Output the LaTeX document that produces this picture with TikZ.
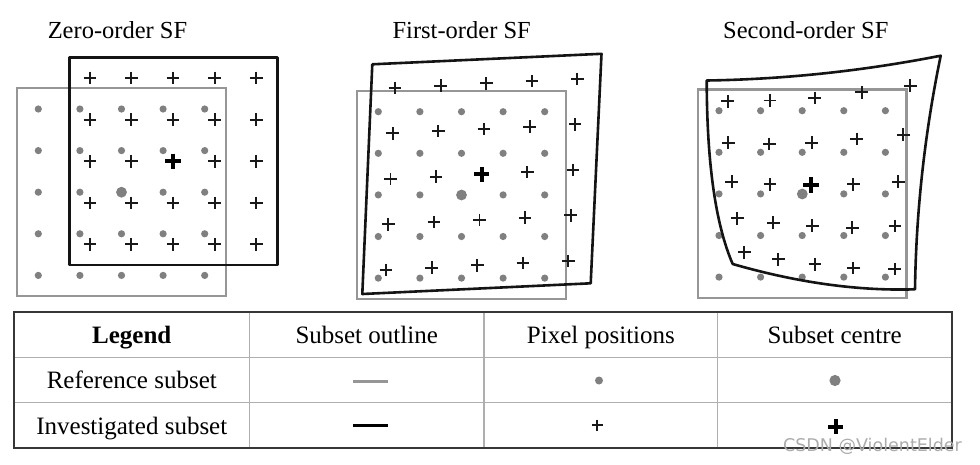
\documentclass[tikz,border=0pt]{standalone}
\usepackage{fontspec}
\setmainfont{Liberation Serif}
\newfontfamily\wmfont{DejaVu Sans}
\definecolor{dotgray}{RGB}{128,128,128}
\definecolor{refgray}{RGB}{150,150,150}
\definecolor{gridgray}{RGB}{175,175,175}
\definecolor{bordergray}{RGB}{55,55,55}
\begin{document}
\begin{tikzpicture}[x=1pt,y=-1pt,
  refbox/.style={draw=refgray,line width=2.3pt},
  invbox/.style={draw=black!92,line width=2.6pt,line join=round},
  pxdot/.style={fill=dotgray},
  titletext/.style={font=\fontsize{24.5}{28}\selectfont,anchor=base,inner sep=0pt},
  celltext/.style={font=\fontsize{25}{30}\selectfont,anchor=base,inner sep=0pt},
  gridline/.style={draw=gridgray,line width=1.5pt},
  pplus/.pic={\draw[line width=1.9pt,black!90] (-6.3,0)--(6.3,0) (0,-6.3)--(0,6.3);},
  bplus/.pic={\draw[line width=3.8pt,black] (-7.6,0)--(7.6,0) (0,-7.6)--(0,7.6);}
]
\path[use as bounding box,fill=white] (0,0) rectangle (980,464);

% titles
\node[titletext] (t1) at (117.5,38.3) {Zero-order SF};
\node[titletext] (t2) at (461.7,38.3) {First-order SF};
\node[titletext] (t3) at (805.8,38.3) {Second-order SF};

% ---------- Panel 1: zero-order ----------
\draw[refbox] (17.3,88.3) rectangle (225.7,296);
\foreach \i in {0,...,4}{\foreach \j in {0,...,4}{
  \fill[pxdot] ({38.3+41.6*\i},{109+41.6*\j}) circle[radius=3.6pt];}}
\fill[pxdot] (121.5,192.2) circle[radius=5.4pt];
\draw[invbox] (69.3,57.3) rectangle (277.7,265);
\foreach \i in {0,...,4}{\foreach \j in {0,...,4}{
  \pic at ({89.8+41.6*\i},{78+41.6*\j}) {pplus};}}
\pic at (173,161.2) {bplus};

% ---------- Panel 2: first-order ----------
\draw[refbox] (357.3,90.7) rectangle (565.7,299);
\foreach \i in {0,...,4}{\foreach \j in {0,...,4}{
  \fill[pxdot] ({378.3+41.6*\i},{111.7+41.6*\j}) circle[radius=3.6pt];}}
\fill[pxdot] (461.5,195) circle[radius=5.4pt];
\draw[invbox] (372.3,64.3) -- (601.5,53.8) -- (590.7,283.3) -- (362.3,294) -- cycle;
\foreach \i in {0,...,4}{\foreach \j in {0,...,4}{
  \pic at ({481.7+(\i-2)*45.6-(\j-2)*2.25},{174.3-(\i-2)*2.25+(\j-2)*45.5}) {pplus};}}
\pic at (481.7,174.3) {bplus};

% ---------- Panel 3: second-order ----------
\draw[refbox] (698.3,89.5) rectangle (906.5,298);
\foreach \i in {0,...,4}{\foreach \j in {0,...,4}{
  \fill[pxdot] ({719+41.6*\i},{110.7+41.6*\j}) circle[radius=3.6pt];}}
\fill[pxdot] (802.3,194) circle[radius=5.4pt];
\draw[invbox] (706.7,80.5)
  .. controls (784.7,79.3) and (862.7,71) .. (940.7,55.7)
  .. controls (924.6,133.8) and (916.1,211.7) .. (915,289.3)
  .. controls (858.3,291.1) and (797.6,282.7) .. (732.7,264)
  .. controls (715.6,224.7) and (706.9,163.5) .. (706.7,80.5) -- cycle;
\foreach \p in {(727.7,101.2),(770,100.5),(814.6,97.8),(861.7,92.3),(910.3,85.7),
  (728.3,142.7),(769.3,144),(811.7,142.7),(856.7,139),(903.3,134.7),
  (731.7,181.7),(770,184.3),(853.3,184.3),(898.3,181.7),
  (737.3,218.3),(773.3,222.7),(812.3,225.7),(852.3,227.7),(895,226),
  (744.3,252.2),(778.3,259.2),(815,264.3),(853.3,268),(894.6,269.1)}{
  \pic at \p {pplus};}
\pic at (811,185) {bplus};

% ---------- Legend table ----------
\draw[gridline] (14.3,357.3) -- (951.7,357.3);
\draw[gridline] (14.3,402.7) -- (951.7,402.7);
\draw[gridline] (249.3,312.3) -- (249.3,448.3);
\draw[gridline] (484,312.3) -- (484,448.3);
\draw[gridline] (717.7,312.3) -- (717.7,448.3);
\draw[draw=bordergray,line width=2pt] (14.3,312.3) rectangle (951.7,448.3);

\node[celltext] (hleg) at (131.8,343.6) {\textbf{Legend}};
\node[celltext] (hout) at (366.7,343.6) {Subset outline};
\node[celltext] (hpix) at (600.9,343.6) {Pixel positions};
\node[celltext] (hcen) at (834.7,343.6) {Subset centre};
\node[celltext] (rref) at (131.8,388.6) {Reference subset};
\node[celltext] (rinv) at (131.8,434.0) {Investigated subset};

\draw[draw=refgray,line width=3pt] (353.3,381) -- (388.3,381);
\draw[draw=black,line width=3.2pt] (353.3,425.5) -- (388.3,425.5);
\fill[pxdot] (599,380.5) circle[radius=4pt];
\fill[pxdot] (835,380.5) circle[radius=5.6pt];
\draw[line width=1.8pt,black!90] (591.8,425) -- (602.8,425) (597.3,419.5) -- (597.3,430.5);
\draw[line width=4pt,black] (828.2,426.7) -- (843.2,426.7) (835.7,419.2) -- (835.7,434.2);

% watermark
\node[font=\wmfont\fontsize{17.5}{20}\selectfont,text=gray!65,inner sep=0pt] (wm) at (872.5,446.2) {CSDN @ViolentElder};
\end{tikzpicture}
\end{document}
